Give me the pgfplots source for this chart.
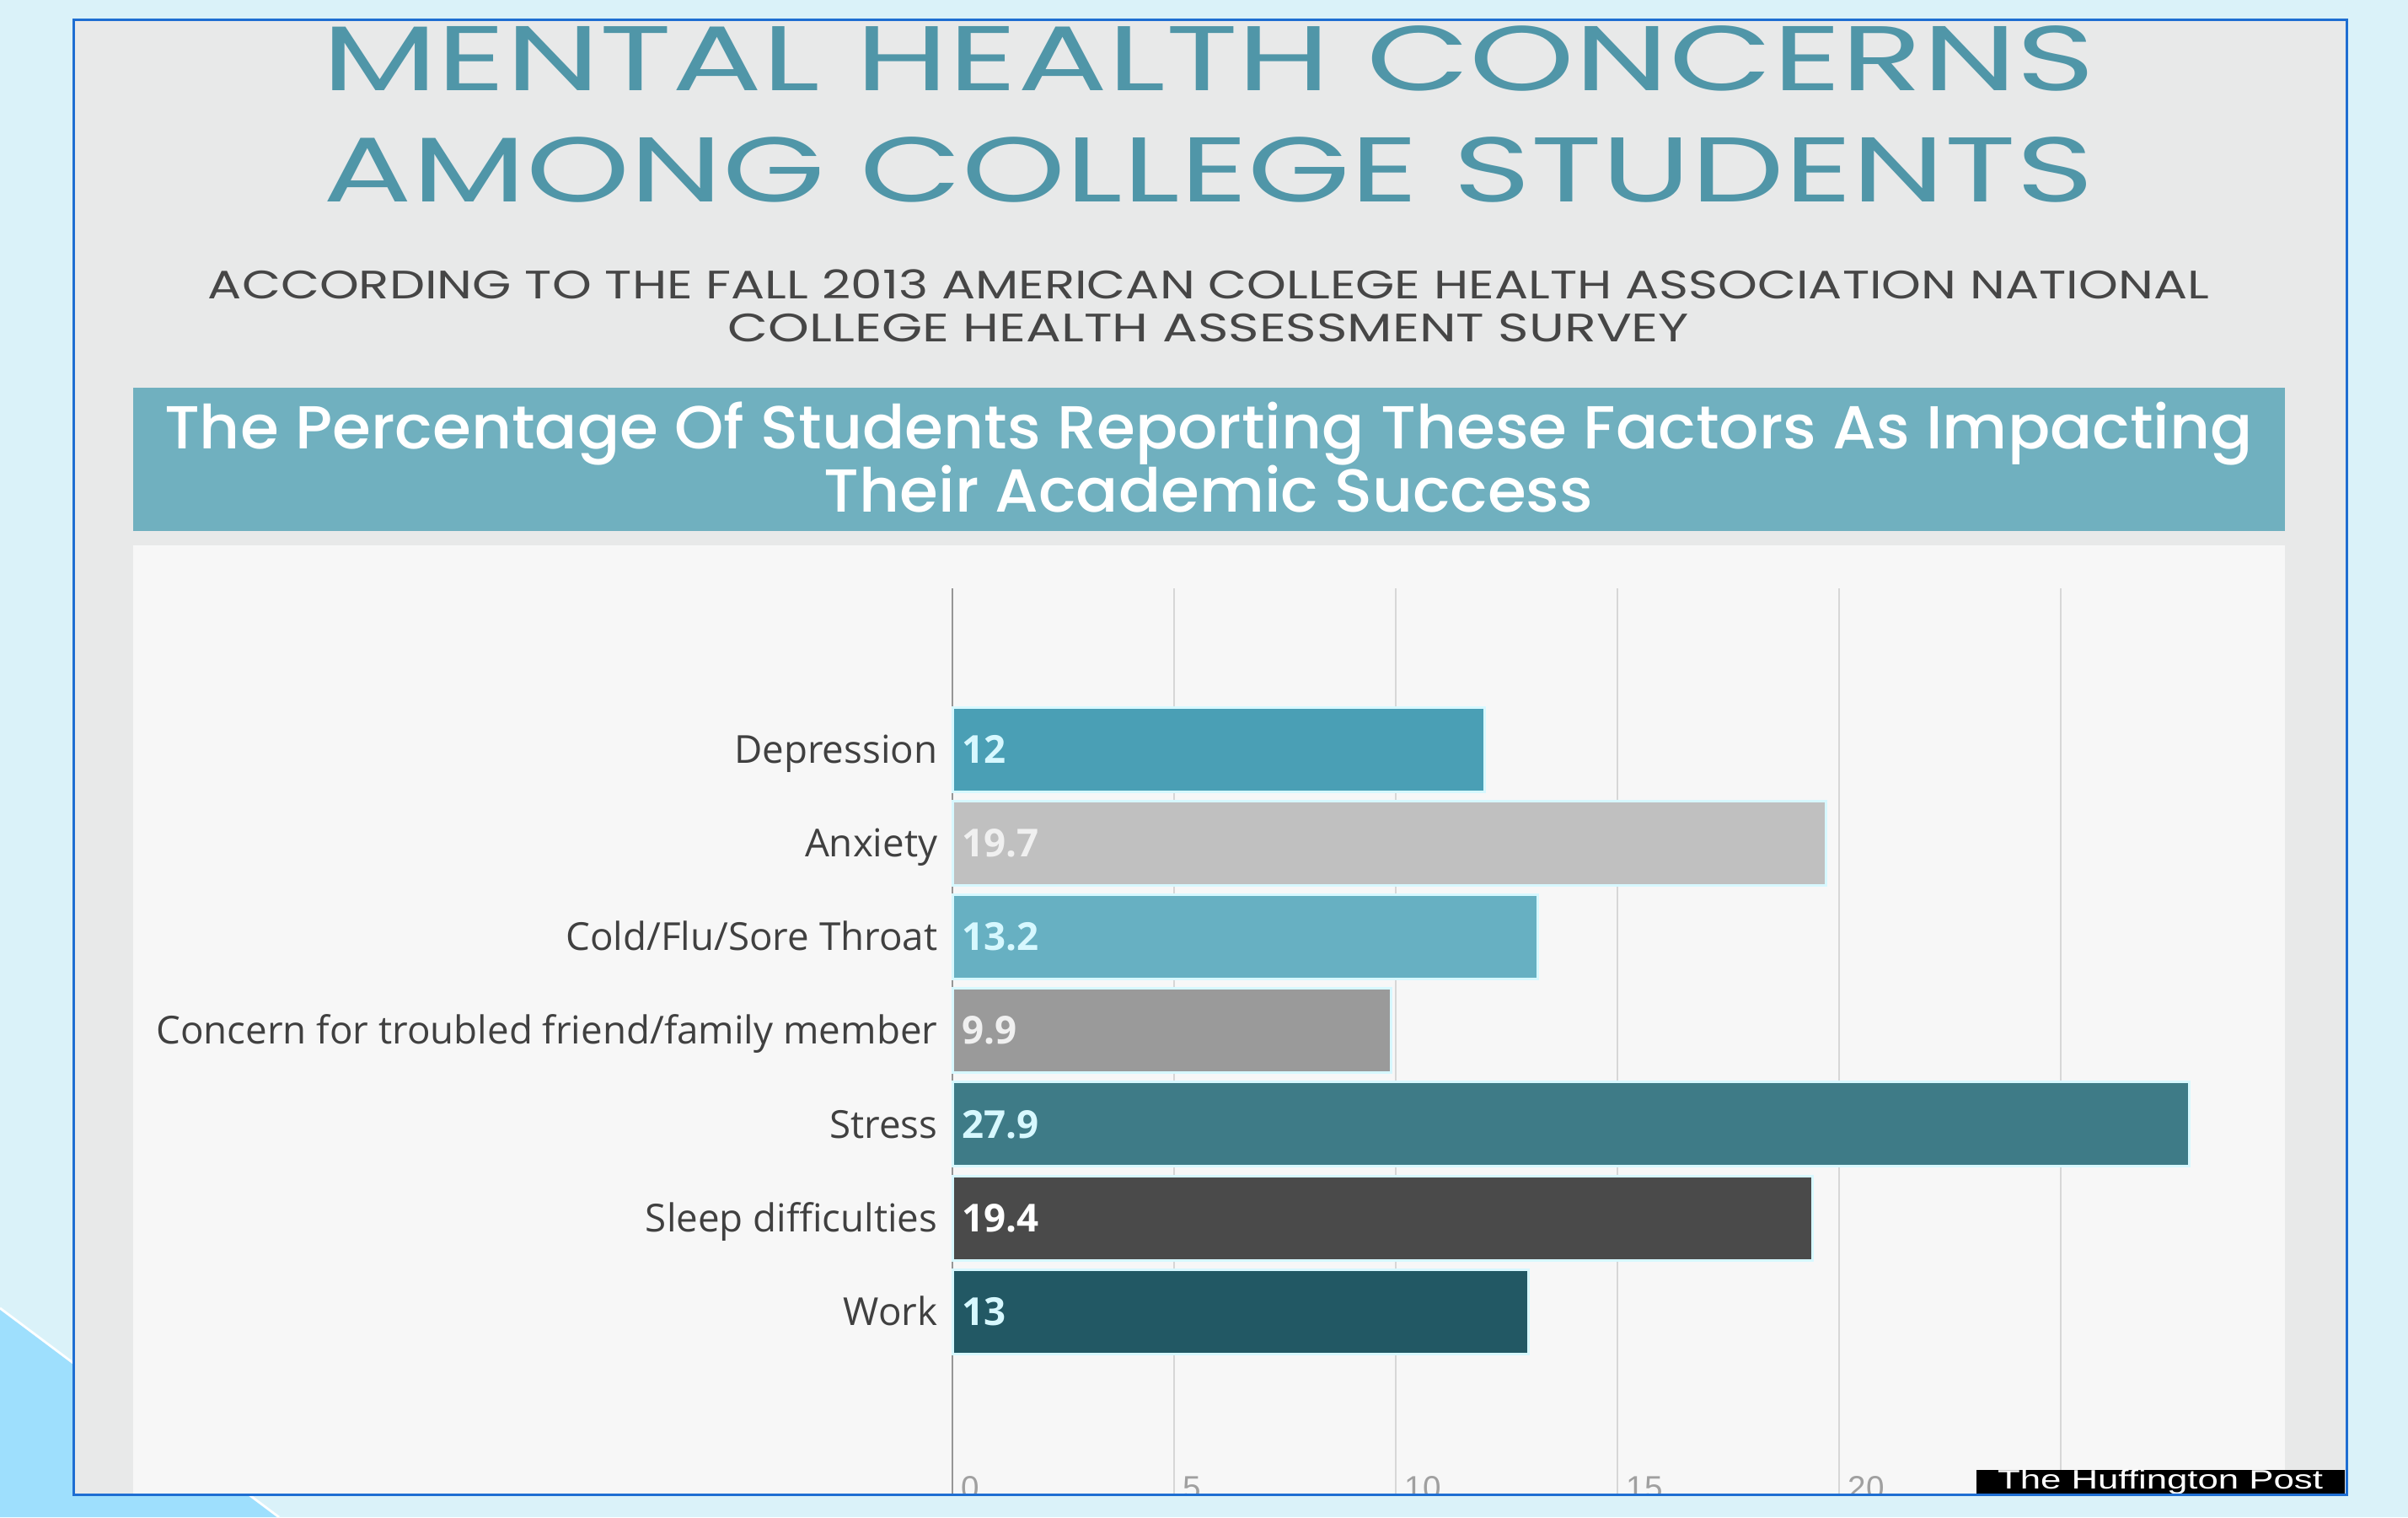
\documentclass[border=0pt]{standalone}
\usepackage{graphicx}
\usepackage{pgfplots}
\pgfplotsset{compat=1.18}
\usepackage{fontspec}
\setmainfont{Open Sans}
\newfontfamily\titlefont{Poppins}
\newfontfamily\bannerfont{Poppins Medium}
\newfontfamily\labfont{Open Sans}
\newfontfamily\hpfont{Liberation Sans}
\definecolor{outerlight}{RGB}{218,242,249}
\definecolor{outerdark}{RGB}{158,223,253}
\definecolor{frameblue}{RGB}{30,110,210}
\definecolor{framegray}{RGB}{232,233,233}
\definecolor{panel}{RGB}{247,247,247}
\definecolor{banner}{RGB}{112,176,191}
\definecolor{titlec}{RGB}{80,150,168}
\definecolor{subc}{RGB}{70,70,70}
\definecolor{labc}{RGB}{64,64,64}
\definecolor{lc}{RGB}{215,248,255}
\definecolor{wc}{RGB}{240,240,240}
\definecolor{cdep}{RGB}{74,159,181}
\definecolor{canx}{RGB}{192,192,192}
\definecolor{ccold}{RGB}{103,176,194}
\definecolor{ccon}{RGB}{154,154,154}
\definecolor{cstr}{RGB}{62,123,135}
\definecolor{csle}{RGB}{74,74,74}
\definecolor{cwor}{RGB}{34,88,100}
\definecolor{gridc}{RGB}{215,215,215}
\definecolor{zeroc}{RGB}{150,150,150}
\definecolor{tickc}{RGB}{160,160,160}
\begin{document}
\begin{tikzpicture}[x=1cm,y=1cm]
\useasboundingbox (0,0) rectangle (28.57,18);
\fill[outerlight] (0,0) rectangle (28.57,18);
\fill[outerdark] (0,0) -- (0,2.48) -- (3.31,0) -- cycle;
\draw[white, line width=0.8pt] (0,2.48) -- (3.31,0);
\fill[framegray] (0.87,0.27) rectangle (27.84,17.76);
\fill[panel] (1.58,0.27) rectangle (27.11,11.53);
\fill[banner] (1.58,11.70) rectangle (27.11,13.40);
% titles
\node[anchor=base, inner sep=0pt, text=titlec, font=\titlefont\fontsize{31pt}{34pt}\selectfont] at (14.34,16.92) {\resizebox{21.04cm}{\height}{MENTAL HEALTH CONCERNS}};
\node[anchor=base, inner sep=0pt, text=titlec, font=\titlefont\fontsize{31pt}{34pt}\selectfont] at (14.34,15.60) {\resizebox{21.0cm}{\height}{AMONG COLLEGE STUDENTS}};
\node[anchor=base, inner sep=0pt, text=subc, font=\titlefont\fontsize{13.4pt}{15pt}\selectfont] at (14.34,14.45) {\resizebox{23.74cm}{\height}{ACCORDING TO THE FALL 2013 AMERICAN COLLEGE HEALTH ASSOCIATION NATIONAL}};
\node[anchor=base, inner sep=0pt, text=subc, font=\titlefont\fontsize{13.4pt}{15pt}\selectfont] at (14.34,13.94) {\resizebox{11.40cm}{\height}{COLLEGE HEALTH ASSESSMENT SURVEY}};
\node[anchor=base, inner sep=0pt, text=white, font=\bannerfont\fontsize{20.5pt}{24pt}\selectfont] at (14.34,12.67) {\resizebox{24.78cm}{\height}{The Percentage Of Students Reporting These Factors As Impacting}};
\node[anchor=base, inner sep=0pt, text=white, font=\bannerfont\fontsize{20.5pt}{24pt}\selectfont] at (14.34,11.92) {\resizebox{9.12cm}{\height}{Their Academic Success}};
% chart
\begin{scope}
\clip (0.87,0.27) rectangle (27.84,17.76);
\begin{axis}[
  at={(11.30cm,0.27cm)}, anchor=south west,
  scale only axis, width=15.78cm, height=10.75cm,
  xmin=0, xmax=30, ymin=-1.72, ymax=7.95, y dir=reverse,
  axis line style={draw=none},
  major tick length=0pt,
  /pgf/number format/assume math mode=true,
  xtick={5,10,15,20,25},
  xticklabels={5,10,15,20,{}},
  extra x ticks={0},
  extra x tick labels={0},
  extra x tick style={grid style={zeroc, line width=0.025cm}},
  xmajorgrids,
  grid style={gridc, line width=0.02cm},
  xticklabel style={anchor=north west, inner sep=0pt, yshift=0.22cm, xshift=0.10cm, font=\hpfont\fontsize{11pt}{12pt}\selectfont, text=tickc},
  ytick={0,1,2,3,4,5,6},
  yticklabels={Depression, Anxiety, Cold/Flu/Sore Throat, Concern for troubled friend/family member, Stress, Sleep difficulties, Work},
  yticklabel style={anchor=base east, inner sep=0pt, xshift=-0.17cm, yshift=-4.6pt, font=\labfont\fontsize{13pt}{14pt}\selectfont, text=labc},
  clip=false,
]
\addplot[xbar, bar width=1.0cm, bar shift=0pt, fill=cdep, draw=lc, line width=0.03cm] coordinates {(12,0)};
\addplot[xbar, bar width=1.0cm, bar shift=0pt, fill=canx, draw=lc, line width=0.03cm] coordinates {(19.7,1)};
\addplot[xbar, bar width=1.0cm, bar shift=0pt, fill=ccold, draw=lc, line width=0.03cm] coordinates {(13.2,2)};
\addplot[xbar, bar width=1.0cm, bar shift=0pt, fill=ccon, draw=lc, line width=0.03cm] coordinates {(9.9,3)};
\addplot[xbar, bar width=1.0cm, bar shift=0pt, fill=cstr, draw=lc, line width=0.03cm] coordinates {(27.9,4)};
\addplot[xbar, bar width=1.0cm, bar shift=0pt, fill=csle, draw=lc, line width=0.03cm] coordinates {(19.4,5)};
\addplot[xbar, bar width=1.0cm, bar shift=0pt, fill=cwor, draw=lc, line width=0.03cm] coordinates {(13,6)};
\addplot[draw=none, mark=none, nodes near coords, point meta=explicit symbolic,
  every node near coord/.append style={anchor=base west, inner sep=0pt, xshift=0.11cm, yshift=-4.6pt, font=\labfont\bfseries\fontsize{13pt}{14pt}\selectfont}]
  coordinates {(0,0) [\textcolor{lc}{12}] (0,1) [\textcolor{wc}{19.7}] (0,2) [\textcolor{lc}{13.2}] (0,3) [\textcolor{wc}{9.9}] (0,4) [\textcolor{lc}{27.9}] (0,5) [\textcolor{white}{19.4}] (0,6) [\textcolor{lc}{13}]};
\end{axis}
\end{scope}
\fill[black] (23.45,0.27) rectangle (27.82,0.56);
\node[inner sep=0pt, text=white, font=\hpfont\fontsize{9pt}{10pt}\selectfont] at (25.63,0.415) {\resizebox{3.86cm}{\height}{The Huffington Post}};
\draw[frameblue, line width=0.03cm] (0.87,0.27) rectangle (27.84,17.76);
\end{tikzpicture}
\end{document}
